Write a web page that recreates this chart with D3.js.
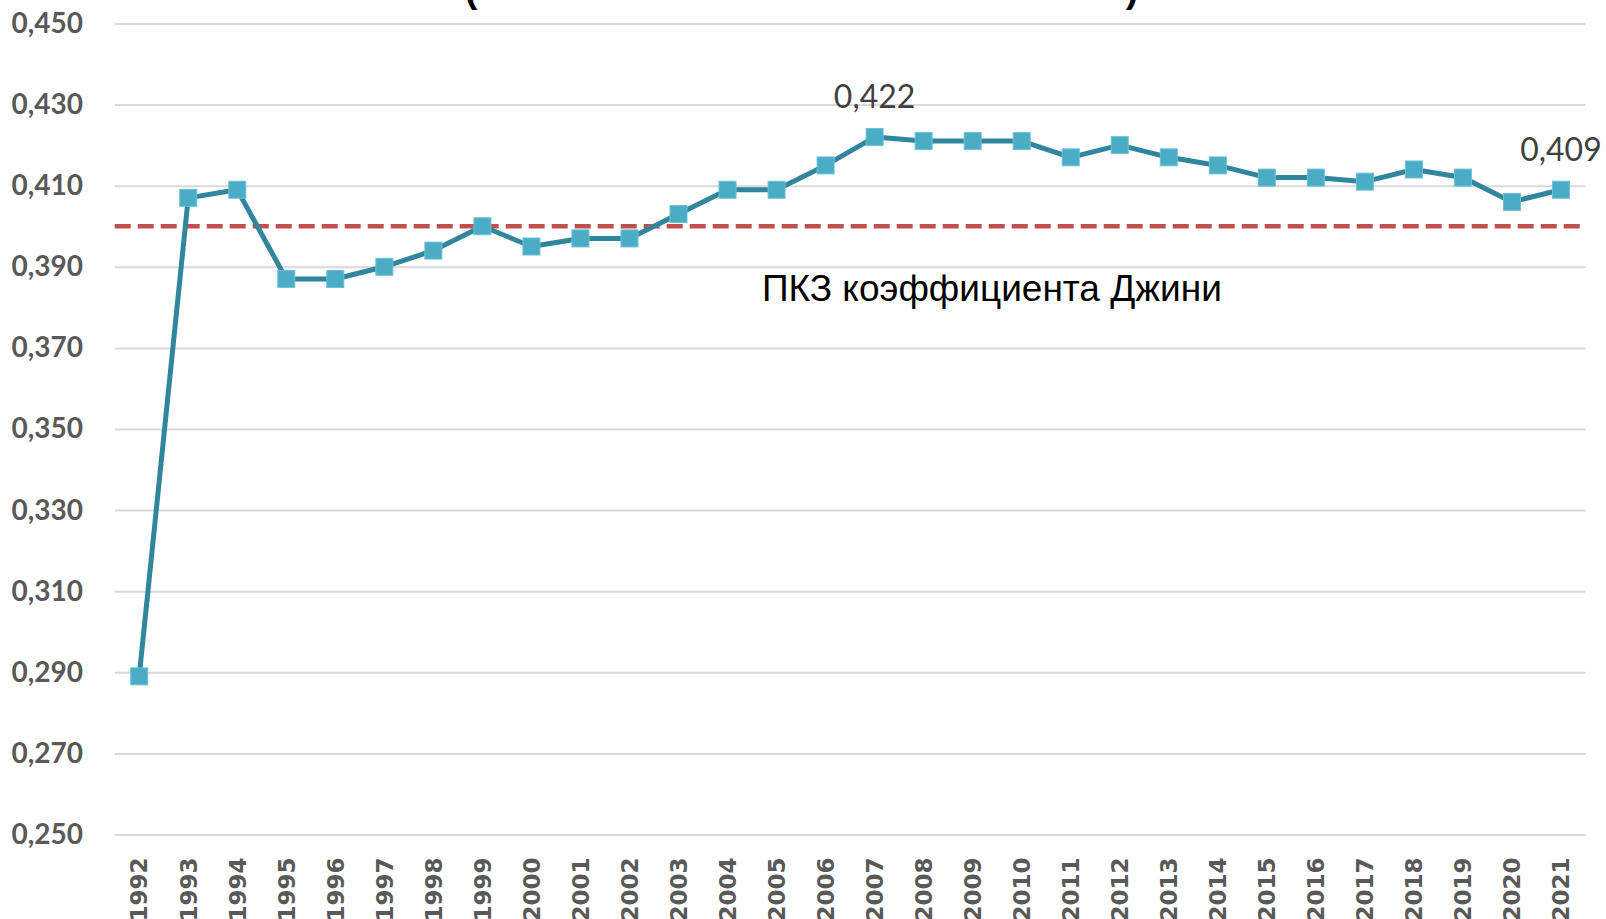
<!DOCTYPE html>
<html>
<head>
<meta charset="utf-8">
<script src="https://cdn.jsdelivr.net/npm/d3@7"></script>
<style>
  body { margin: 0; background: #fff; overflow: hidden; }
  svg { display: block; }
</style>
</head>
<body>
<svg id="chart" width="1606" height="919"></svg>
<script>
/*
Chart data: Gini coefficient by year */
var years = ['1992','1993','1994','1995','1996','1997','1998','1999','2000','2001',
             '2002','2003','2004','2005','2006','2007','2008','2009','2010','2011',
             '2012','2013','2014','2015','2016','2017','2018','2019','2020','2021'];
var gini = [0.289, 0.407, 0.409, 0.387, 0.387, 0.390, 0.394, 0.400, 0.395, 0.397,
            0.397, 0.403, 0.409, 0.409, 0.415, 0.422, 0.421, 0.421, 0.421, 0.417,
            0.420, 0.417, 0.415, 0.412, 0.412, 0.411, 0.414, 0.412, 0.406, 0.409];
var y_ticks = [0.25, 0.27, 0.29, 0.31, 0.33, 0.35, 0.37, 0.39, 0.41, 0.43, 0.45];
/*
Threshold (ПКЗ) and labelled points */
var threshold = 0.400;
var threshold_label = 'ПКЗ коэффициента Джини';
var labelled_years = ['2007', '2021'];
var title_parts = ['(', ')'];

var svg = d3.select('#chart');
var plot_left = 114.7, plot_right = 1585.5, plot_top = 23.5, plot_bottom = 834.5;

var ru = d3.formatLocale({decimal: ',', thousands: ' ', grouping: [3], currency: ['', '']});
var fmt = ru.format('.3f');

var x = d3.scaleBand().domain(years).range([plot_left, plot_right]).padding(0);
var y = d3.scaleLinear().domain([0.25, 0.45]).range([plot_bottom, plot_top]);

// title (cut off by the top edge, only parens show)
svg.selectAll('.title-part')
    .data(title_parts)
  .enter().append('text')
    .attr('class', 'title-part')
    .attr('x', function(d, i) { return i == 0 ? 471 : 1132; })
    .attr('y', 2)
    .attr('text-anchor', 'middle')
    .style('font-family', 'Liberation Sans, Arial, sans-serif')
    .style('font-size', '38px')
    .style('font-weight', 'bold')
    .style('fill', '#000')
    .text(function(d) { return d; });

// gridlines
var grid = svg.append('g')
    .attr('transform', 'translate(' + plot_left + ',0)')
    .call(d3.axisLeft(y).tickValues(y_ticks).tickSize(-(plot_right - plot_left)).tickFormat(''));
grid.select('.domain').remove();
grid.selectAll('line').attr('stroke', '#d9d9d9').attr('stroke-width', 2);

// y axis labels
var yAxis = svg.append('g')
    .attr('transform', 'translate(83,0)')
    .call(d3.axisLeft(y).tickValues(y_ticks).tickSize(0).tickPadding(0).tickFormat(fmt));
yAxis.select('.domain').remove();
yAxis.selectAll('text')
    .style('font-family', 'Lato, "Open Sans", sans-serif')
    .style('font-size', '28px')
    .style('font-weight', 'bold')
    .style('fill', '#595959');

// x axis labels
var xAxis = svg.append('g')
    .attr('transform', 'translate(0,' + plot_bottom + ')')
    .call(d3.axisBottom(x).tickSize(0).tickPadding(0));
xAxis.select('.domain').remove();
xAxis.selectAll('text')
    .attr('transform', 'rotate(-90)')
    .attr('x', -23)
    .attr('y', 0)
    .attr('dy', '0.36em')
    .attr('text-anchor', 'end')
    .style('font-family', '"DejaVu Sans", Verdana, sans-serif')
    .style('font-size', '23px')
    .style('font-weight', 'bold')
    .style('fill', '#595959');

// threshold line
svg.append('line')
    .attr('x1', plot_left).attr('x2', plot_right)
    .attr('y1', y(threshold)).attr('y2', y(threshold))
    .attr('stroke', '#c0504d')
    .attr('stroke-width', 4.5)
    .attr('stroke-dasharray', '16,7');

svg.append('text')
    .attr('x', 762)
    .attr('y', y(threshold) + 75)
    .style('font-family', 'Liberation Sans, Arial, sans-serif')
    .style('font-size', '37px')
    .style('fill', '#000')
    .text(threshold_label);

// series line
var line = d3.line()
    .x(function(d, i) { return x(years[i]) + x.bandwidth() / 2; })
    .y(function(d) { return y(d); });

svg.append('path')
    .datum(gini)
    .attr('d', line)
    .attr('fill', 'none')
    .attr('stroke', '#31859c')
    .attr('stroke-width', 5)
    .attr('stroke-linejoin', 'round');

// markers
var msize = 17;
svg.selectAll('.marker')
    .data(gini)
  .enter().append('rect')
    .attr('class', 'marker')
    .attr('x', function(d, i) { return x(years[i]) + x.bandwidth() / 2 - msize / 2; })
    .attr('y', function(d) { return y(d) - msize / 2; })
    .attr('width', msize)
    .attr('height', msize)
    .attr('fill', '#4bacc6')
    .attr('stroke', '#6cc0d6')
    .attr('stroke-width', 1);

// data labels
svg.selectAll('.dlabel')
    .data(labelled_years)
  .enter().append('text')
    .attr('class', 'dlabel')
    .attr('x', function(d) { return x(d) + x.bandwidth() / 2; })
    .attr('y', function(d) { return y(gini[years.indexOf(d)]) - 29; })
    .attr('text-anchor', 'middle')
    .style('font-family', 'Lato, "Open Sans", sans-serif')
    .style('font-size', '32px')
    .style('fill', '#404040')
    .text(function(d) { return fmt(gini[years.indexOf(d)]); });
</script>
</body>
</html>
